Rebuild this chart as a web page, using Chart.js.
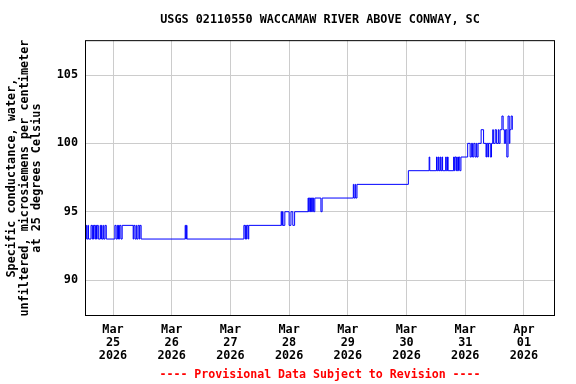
<!DOCTYPE html>
<html>
<head>
<meta charset="utf-8">
<script src="https://cdn.jsdelivr.net/npm/chart.js@4"></script>
<style>
  html, body { margin: 0; padding: 0; background: #fff; }
</style>
</head>
<body>
<canvas id="myChart" width="576" height="384"></canvas>
<script>
// hours since Mar 25 2026 00:00, value holds until the next entry
const hours = [
  -11.25, -11, -10.75, -10.25, -10, -9, -8.5, -8.25, -8, -7.75, -7.25, -7, -6.75, -6.5, -6,
  -5.25, -5, -4.75, -4.5, -4, -3.75, -3.25, -2.75, 0.75, 1.25, 1.75, 2, 2.25, 2.5, 2.75,
  3.25, 3.75, 8.25, 8.5, 9, 9.5, 9.75, 10.25, 10.75, 11, 11.5,
  29.5, 29.75, 30, 30.25,
  53.5, 54, 54.25, 54.5, 54.75, 55.25, 55.5,
  68.75, 69, 69.25, 69.5, 70.25, 72, 72.75, 73.5, 74.25,
  79.75, 80, 80.25, 80.75, 81, 81.25, 81.5, 82, 82.5, 85, 85.5,
  98.25, 98.5, 99, 99.25, 99.75,
  120.75,
  129.25, 129.5, 132.25, 132.5, 133, 133.25, 133.75, 134, 134.5, 134.75, 136, 136.25, 136.75, 137,
  139.25, 139.5, 139.75, 140.25, 140.5, 140.75, 141.25, 141.75, 142.25,
  145, 146, 146.5, 147, 147.5, 148, 148.5, 148.75, 149.25, 150.5, 151.5, 152.5, 152.75, 153.25,
  153.5, 154.25, 154.75, 155.25, 155.5, 156.25, 156.75, 157.5, 157.75, 158.25, 159, 159.5,
  160, 160.5, 161, 161.5, 162, 162.25, 162.75, 163.25
];
const conductance = [
  93, 94, 93, 94, 93, 94, 93, 94, 93, 94, 93, 94, 93, 94, 93,
  94, 93, 94, 93, 94, 93, 94, 93, 94, 93, 94, 93, 94, 93, 94,
  93, 94, 93, 94, 93, 94, 93, 94, 93, 94, 93,
  94, 93, 94, 93,
  94, 93, 94, 93, 94, 93, 94,
  95, 94, 95, 94, 95, 94, 95, 94, 95,
  96, 95, 96, 95, 96, 95, 96, 95, 96, 95, 96,
  97, 96, 97, 96, 97,
  98,
  99, 98, 99, 98, 99, 98, 99, 98, 99, 98, 99, 98, 99, 98,
  99, 98, 99, 98, 99, 98, 99, 98, 99,
  100, 99, 100, 99, 100, 99, 100, 99, 100, 101, 100, 99, 100, 99,
  100, 99, 100, 101, 100, 101, 100, 101, 100, 101, 102, 101,
  100, 101, 99, 102, 100, 101, 102, 101
];

const dayTicks = [0, 24, 48, 72, 96, 120, 144, 168];
const tickMonths = ['Mar', 'Mar', 'Mar', 'Mar', 'Mar', 'Mar', 'Mar', 'Apr'];
const tickDays = ['25', '26', '27', '28', '29', '30', '31', '01'];
const tickYears = ['2026', '2026', '2026', '2026', '2026', '2026', '2026', '2026'];
const yTicks = [90, 95, 100, 105];

const FONT = "'DejaVu Sans Mono', monospace";

const frame = {
  id: 'frame',
  afterDraw(chart) {
    const { ctx, chartArea: a } = chart;
    ctx.save();
    ctx.strokeStyle = '#000';
    ctx.lineWidth = 1;
    ctx.strokeRect(a.left + 0.5, a.top + 0.5, a.right - a.left - 1, a.bottom - a.top - 1);
    ctx.restore();
  }
};

const ctx = document.getElementById('myChart').getContext('2d');
new Chart(ctx, {
  type: 'line',
  data: {
    datasets: [{
      data: hours.map((h, i) => ({ x: h, y: conductance[i] })),
      borderColor: '#0000ff',
      borderWidth: 1,
      pointRadius: 0,
      stepped: 'before',
      fill: false
    }]
  },
  options: {
    responsive: false,
    animation: false,
    layout: { padding: { left: 0, right: 21, top: 0, bottom: 0 } },
    plugins: {
      legend: { display: false },
      tooltip: { enabled: false },
      title: {
        display: true,
        fullSize: false,
        text: 'USGS 02110550 WACCAMAW RIVER ABOVE CONWAY, SC',
        color: '#000',
        font: { family: FONT, size: 11.8, weight: 'bold', lineHeight: 1.2 },
        padding: { top: 13, bottom: 13 }
      }
    },
    scales: {
      x: {
        type: 'linear',
        min: -11.45,
        max: 180.7,
        afterBuildTicks: s => { s.ticks = dayTicks.map(v => ({ value: v })); },
        afterFit: s => { s.height = 68; },
        grid: { color: '#cccccc', drawTicks: false },
        border: { display: false },
        ticks: {
          padding: 8,
          maxRotation: 0,
          autoSkip: false,
          color: '#000',
          font: { family: FONT, size: 11.8, weight: 'bold', lineHeight: 1.08 },
          callback: v => {
            const i = dayTicks.indexOf(v);
            return i < 0 ? '' : [tickMonths[i], tickDays[i], tickYears[i]];
          }
        },
        title: {
          display: true,
          text: '---- Provisional Data Subject to Revision ----',
          color: '#ff0000',
          font: { family: FONT, size: 11.6, weight: 'bold', lineHeight: 1.08 },
          padding: { top: 0, bottom: 2.5 }
        }
      },
      y: {
        min: 87.37,
        max: 107.55,
        afterBuildTicks: s => { s.ticks = yTicks.map(v => ({ value: v })); },
        afterFit: s => { s.width = 85; },
        grid: { color: '#cccccc', drawTicks: false },
        border: { display: false },
        ticks: {
          padding: 7,
          color: '#000',
          font: { family: FONT, size: 11.8, weight: 'bold' }
        },
        title: {
          display: true,
          text: ['Specific conductance, water,', 'unfiltered, microsiemens per centimeter', 'at 25 degrees Celsius'],
          color: '#000',
          font: { family: FONT, size: 11.8, weight: 'bold', lineHeight: 1.08 },
          padding: { top: 5.5, bottom: 0 }
        }
      }
    }
  },
  plugins: [frame]
});
</script>
</body>
</html>
